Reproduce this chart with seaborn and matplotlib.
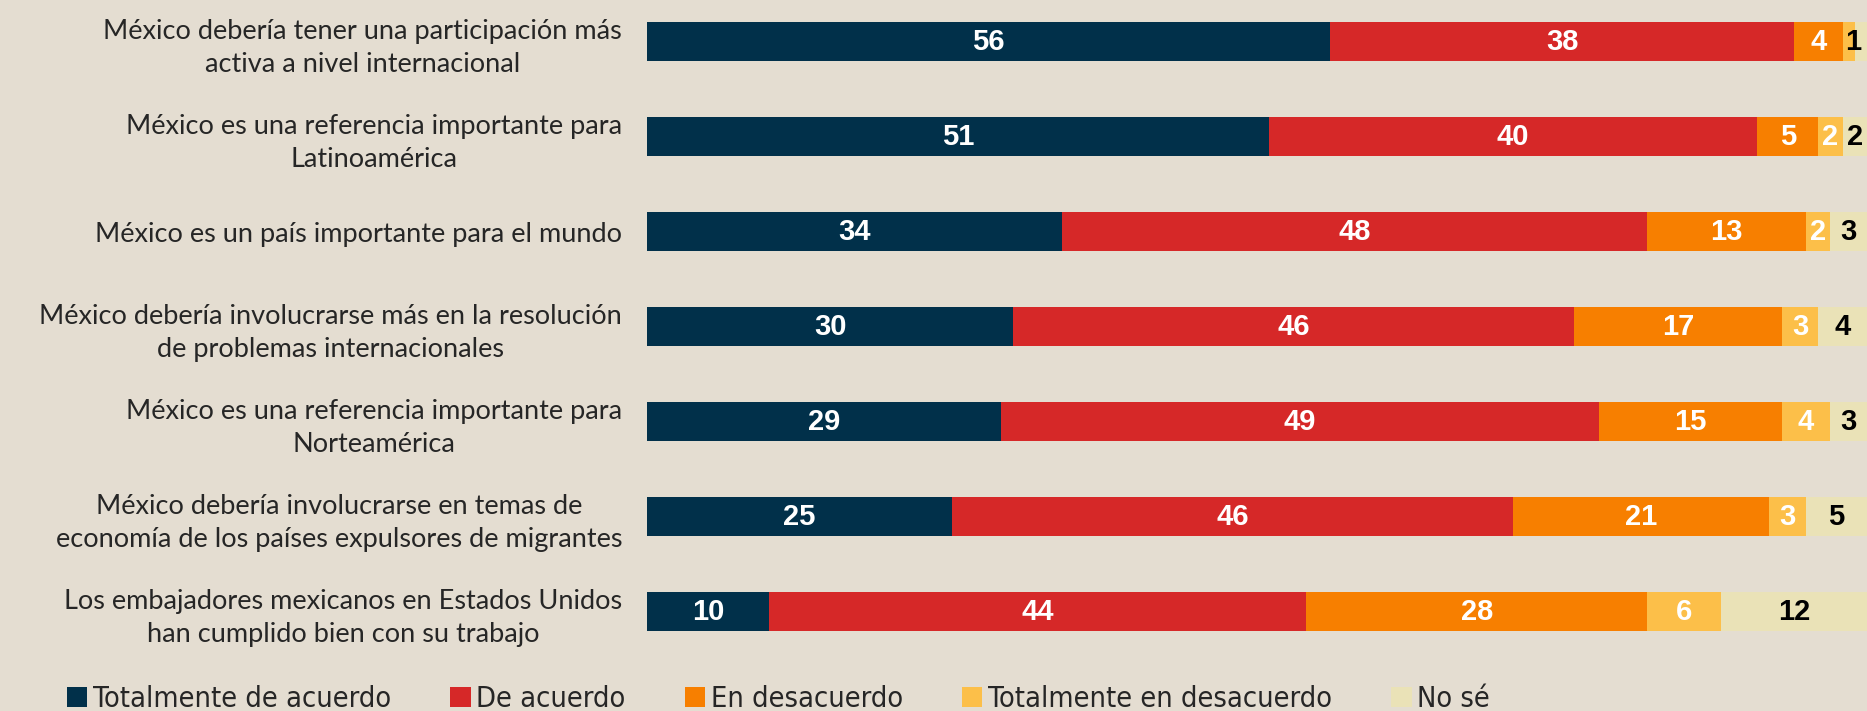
import pandas as pd
import matplotlib.pyplot as plt
import seaborn as sns
from matplotlib.patches import Patch
from matplotlib import font_manager

# Datos
preguntas = [
    'México debería tener una participación más\nactiva a nivel internacional',
    'México es una referencia importante para\nLatinoamérica',
    'México es un país importante para el mundo',
    'México debería involucrarse más en la resolución\nde problemas internacionales',
    'México es una referencia importante para\nNorteamérica',
    'México debería involucrarse en temas de\neconomía de los países expulsores de migrantes',
    'Los embajadores mexicanos en Estados Unidos\nhan cumplido bien con su trabajo',
]
respuestas = ['Totalmente de acuerdo', 'De acuerdo', 'En desacuerdo',
              'Totalmente en desacuerdo', 'No sé']
totalmente_de_acuerdo = [56, 51, 34, 30, 29, 25, 10]
de_acuerdo = [38, 40, 48, 46, 49, 46, 44]
en_desacuerdo = [4, 5, 13, 17, 15, 21, 28]
totalmente_en_desacuerdo = [1, 2, 2, 3, 4, 3, 6]
no_se = [1, 2, 3, 4, 3, 5, 12]

colores = ['#01304a', '#d62828', '#f77f00', '#fcbf49', '#eae2b7']
color_texto = ['white', 'white', 'white', 'white', 'black']
fondo = '#e4ddd1'

df = pd.DataFrame({
    'pregunta': preguntas,
    respuestas[0]: totalmente_de_acuerdo,
    respuestas[1]: de_acuerdo,
    respuestas[2]: en_desacuerdo,
    respuestas[3]: totalmente_en_desacuerdo,
    respuestas[4]: no_se,
})
acum = df[respuestas].cumsum(axis=1)

sns.set_style('white')
plt.rcParams['font.family'] = ['Lato', 'DejaVu Sans']

# fuente condensada regular para la leyenda, si existe
condensadas = [f for f in font_manager.fontManager.ttflist
               if (f.stretch in ('condensed', 'semi-condensed', 'extra-condensed')
                   or 'Narrow' in f.name or 'Condensed' in f.name)
               and f.weight in ('normal', 400, 'regular', 'book')
               and f.style == 'normal']
if condensadas:
    prop_leyenda = font_manager.FontProperties(fname=condensadas[0].fname, size=20.8)
else:
    prop_leyenda = font_manager.FontProperties(family='DejaVu Sans', size=19)

fig = plt.figure(figsize=(18.67, 7.11), dpi=100, facecolor=fondo)
ax = fig.add_axes([0.3466, 0.0731, 0.6534, 0.9269])
ax.set_facecolor(fondo)

# barras apiladas: dibujar acumulados de mayor a menor
for i in range(len(respuestas) - 1, -1, -1):
    sns.barplot(x=acum[respuestas[i]], y=df['pregunta'], orient='h',
                color=colores[i], width=0.41, linewidth=0, saturation=1, ax=ax)

# etiquetas de valores
for i, r in enumerate(respuestas):
    for j in range(len(df)):
        v = df[r].iloc[j]
        if r == 'Totalmente en desacuerdo' and v < 2:
            continue
        centro = acum[r].iloc[j] - v / 2
        if r == 'No sé' and v < 2:
            centro -= 0.6
        ax.text(centro, j, str(v), ha='center', va='center',
                color=color_texto[i], fontsize=21, fontweight='bold',
                family='Liberation Sans')

ax.set_xlim(0, 100)
ax.set_ylim(6.5, -0.437)
ax.set_xlabel('')
ax.set_ylabel('')
ax.set_xticks([])
ax.tick_params(axis='y', length=0, pad=18, labelsize=19.5)
for lbl in ax.get_yticklabels():
    lbl.set_multialignment('center')
    lbl.set_linespacing(1.4)
sns.despine(ax=ax, left=True, bottom=True)

handles = [Patch(facecolor=c, edgecolor='none') for c in colores]
fig.legend(handles, respuestas, loc='lower left', bbox_to_anchor=(0.022, -0.039),
           ncol=5, frameon=False, handlelength=0.7, handleheight=0.7,
           handletextpad=0.2, columnspacing=2.05, prop=prop_leyenda)

fig.savefig('out.png', dpi=100, facecolor=fondo)
